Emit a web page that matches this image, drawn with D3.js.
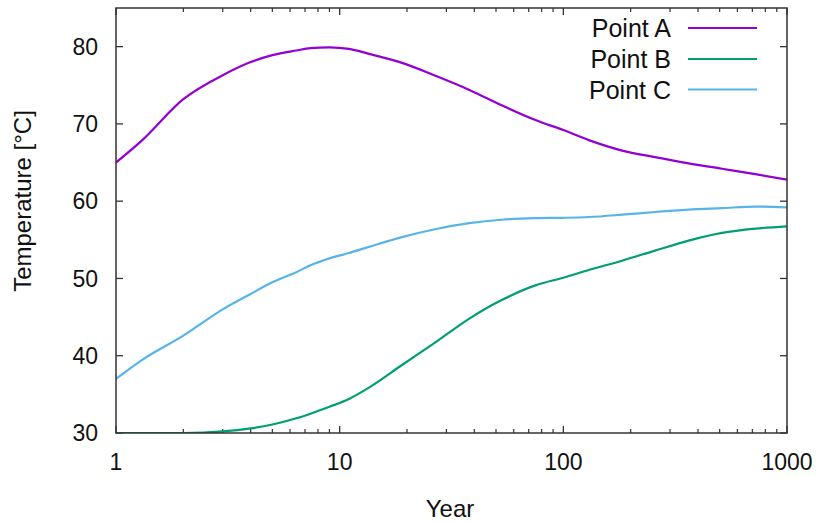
<!DOCTYPE html>
<html>
<head>
<meta charset="utf-8">
<script src="https://cdn.jsdelivr.net/npm/d3@7"></script>
<style>
  html, body { margin: 0; padding: 0; background: #fff; }
  svg { display: block; }
  text { font-family: "Liberation Sans", Arial, sans-serif; fill: #111; }
</style>
</head>
<body>
<svg id="chart" width="821" height="522"></svg>
<script>
// Temperature history at three points, log-scaled time axis
const years = [1, 1.3, 2, 3, 4, 5, 6.4, 7.4, 9, 11, 13.4, 19, 27, 38, 53, 75, 100, 130, 183, 257, 363, 512, 721, 1000];
const pointA = [65.0, 67.8, 73.2, 76.3, 78.0, 78.9, 79.5, 79.8, 79.9, 79.7, 79.1, 77.9, 76.2, 74.4, 72.4, 70.5, 69.2, 67.9, 66.55, 65.7, 64.9, 64.2, 63.5, 62.8];
const pointB = [30.0, 30.0, 30.0, 30.2, 30.6, 31.1, 31.9, 32.5, 33.4, 34.4, 35.8, 38.8, 41.8, 44.8, 47.2, 49.1, 50.1, 51.1, 52.3, 53.6, 54.9, 55.9, 56.45, 56.75];
const pointC = [37.0, 39.4, 42.6, 46.0, 48.0, 49.5, 50.8, 51.7, 52.6, 53.3, 54.05, 55.35, 56.4, 57.15, 57.6, 57.8, 57.85, 57.95, 58.25, 58.6, 58.9, 59.1, 59.3, 59.2];

const seriesNames = ["Point A", "Point B", "Point C"];
const seriesColors = ["#9400d3", "#009e73", "#56b4e9"];
const seriesValues = [pointA, pointB, pointC];

const xTickValues = [1, 10, 100, 1000];
const yTickValues = [30, 40, 50, 60, 70, 80];

(function () {
  const svg = d3.select("#chart");
  const pl = 116, pr = 787, pt = 8, pb = 433;

  const x = d3.scaleLog().domain([1, 1000]).range([pl, pr]);
  const y = d3.scaleLinear().domain([30, 85]).range([pb, pt]);

  // minor ticks 2..9 in each decade
  const minorX = [];
  [1, 10, 100].forEach(d => { for (let k = 2; k <= 9; k++) minorX.push(d * k); });

  const tickColor = "#333";
  const g = svg.append("g");

  function vTicks(data, y0, len, w) {
    g.append("g").selectAll("line").data(data).join("line")
      .attr("x1", d => x(d)).attr("x2", d => x(d))
      .attr("y1", y0).attr("y2", y0 + len)
      .attr("stroke", tickColor).attr("stroke-width", w);
  }
  function hTicks(data, x0, len, w) {
    g.append("g").selectAll("line").data(data).join("line")
      .attr("x1", x0).attr("x2", x0 + len)
      .attr("y1", d => y(d)).attr("y2", d => y(d))
      .attr("stroke", tickColor).attr("stroke-width", w);
  }

  // inward ticks on all four sides
  vTicks(xTickValues, pb, -7, 1.3);
  vTicks(xTickValues, pt, 7, 1.3);
  vTicks(minorX, pb, -4, 1.2);
  vTicks(minorX, pt, 4, 1.2);
  hTicks(yTickValues, pl, 7, 1.3);
  hTicks(yTickValues, pr, -7, 1.3);

  // tick labels
  g.append("g").selectAll("text").data(xTickValues).join("text")
    .attr("x", d => x(d)).attr("y", pb + 37)
    .attr("text-anchor", "middle").attr("font-size", 23)
    .text(d => d);
  g.append("g").selectAll("text").data(yTickValues).join("text")
    .attr("x", 98).attr("y", d => y(d)).attr("dy", "0.36em")
    .attr("text-anchor", "end").attr("font-size", 23)
    .text(d => d);

  // axis titles
  svg.append("text").attr("x", 450).attr("y", 517)
    .attr("text-anchor", "middle").attr("font-size", 24).text("Year");
  svg.append("text")
    .attr("transform", "translate(31,201) rotate(-90)")
    .attr("text-anchor", "middle").attr("font-size", 24)
    .text("Temperature [°C]");

  // curves
  const line = d3.line()
    .x((d, i) => x(years[i]))
    .y(d => y(d))
    .curve(d3.curveMonotoneX);

  svg.append("defs").append("clipPath").attr("id", "plotClip")
    .append("rect").attr("x", pl).attr("y", pt)
    .attr("width", pr - pl).attr("height", pb - pt);

  svg.append("g").attr("clip-path", "url(#plotClip)")
    .selectAll("path").data(seriesValues).join("path")
    .attr("d", d => line(d))
    .attr("fill", "none")
    .attr("stroke", (d, i) => seriesColors[i])
    .attr("stroke-width", 2.2)
    .attr("stroke-linejoin", "round");

  // frame
  svg.append("rect").attr("x", pl).attr("y", pt)
    .attr("width", pr - pl).attr("height", pb - pt)
    .attr("fill", "none").attr("stroke", tickColor).attr("stroke-width", 1.5);

  // legend
  const legend = svg.append("g");
  const rowY = [28, 59, 89.5];
  seriesNames.forEach((name, i) => {
    legend.append("text").attr("x", 671).attr("y", rowY[i]).attr("dy", "0.36em")
      .attr("text-anchor", "end").attr("font-size", 25).text(name);
    legend.append("line").attr("x1", 688).attr("x2", 757)
      .attr("y1", rowY[i]).attr("y2", rowY[i])
      .attr("stroke", seriesColors[i]).attr("stroke-width", 2.2);
  });
})();
</script>
</body>
</html>
